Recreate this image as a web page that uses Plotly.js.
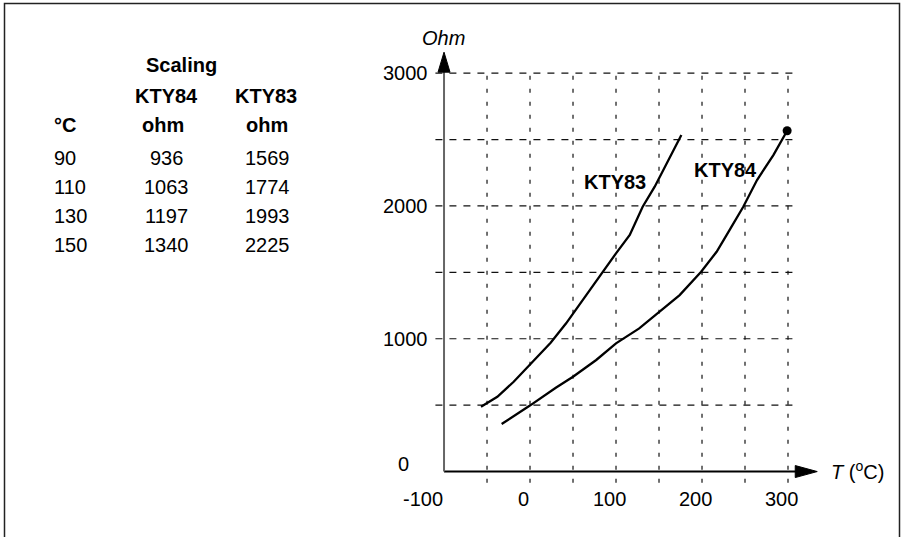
<!DOCTYPE html>
<html>
<head>
<meta charset="utf-8">
<script src="https://cdn.plot.ly/plotly-3.0.1.min.js"></script>
<style>html,body{margin:0;padding:0;background:#fff;}#chart{width:901px;height:537px;}</style>
</head>
<body>
<div id="chart"></div>
<script>
// ---- data ----
const kty83T = [-57, -38, -19, 1, 24, 42, 61, 83, 100, 116, 131, 145, 159, 176];
const kty83R = [488, 563, 676, 815, 970, 1116, 1291, 1492, 1643, 1782, 1994, 2145, 2321, 2534];
const kty84T = [-33, -1, 30, 50, 77, 100, 127, 151, 174, 199, 217, 232, 248, 264, 283, 299];
const kty84R = [358, 493, 631, 714, 840, 965, 1078, 1203, 1329, 1505, 1655, 1818, 1994, 2195, 2383, 2566];

const tableTempC = [90, 110, 130, 150];
const tableKTY84 = [936, 1063, 1197, 1340];
const tableKTY83 = [1569, 1774, 1993, 2225];

const xTickVals = [-100, 0, 100, 200, 300];
const xTickText = ['-100', '0', '100', '200', '300'];
const yTickVals = [0, 1000, 2000, 3000];
const yTickText = ['0', '1000', '2000', '3000'];
const xGridVals = [-50, 0, 50, 100, 150, 200, 250, 300];
const yGridVals = [500, 1000, 1500, 2000, 2500, 3000];

// ---- styling ----
const W = 901, H = 537;
const FONT = 'Liberation Sans, Arial, Helvetica, sans-serif';
const px = v => v / W;
const py = v => 1 - v / H;
const txt = (text, x, y, extra) => Object.assign({
  text: text, x: x, y: y, xref: 'paper', yref: 'paper', showarrow: false,
  font: {family: FONT, size: 20, color: '#000'}, xanchor: 'center', yanchor: 'middle'
}, extra || {});

const traces = [
  {x: kty83T, y: kty83R, mode: 'lines', line: {color: '#000', width: 2.3}, hoverinfo: 'skip'},
  {x: kty84T, y: kty84R, mode: 'lines', line: {color: '#000', width: 2.3}, hoverinfo: 'skip'},
  {x: [kty84T[kty84T.length - 1]], y: [kty84R[kty84R.length - 1]], mode: 'markers',
   marker: {color: '#000', size: 9}, hoverinfo: 'skip'}
];

const shapes = [];
// figure border (left, top, right)
shapes.push({type: 'path', xref: 'paper', yref: 'paper',
  path: `M ${px(4.5)},-0.02 L ${px(4.5)},${py(3.5)} L ${px(899.5)},${py(3.5)} L ${px(899.5)},-0.02`,
  line: {color: '#222', width: 1.5}});
// grid
xGridVals.forEach(v => shapes.push({type: 'line', xref: 'x', yref: 'y', x0: v, x1: v, y0: -85, y1: 3000,
  line: {color: '#111', width: 1.2, dash: '4px,9px'}, layer: 'below'}));
yGridVals.forEach(v => shapes.push({type: 'line', xref: 'x', yref: 'y', x0: -110, x1: 308, y0: v, y1: v,
  line: {color: '#111', width: 1.2, dash: '7px,7px'}, layer: 'below'}));
// axes
shapes.push({type: 'line', xref: 'x', yref: 'y', x0: -100, x1: 312, y0: 0, y1: 0, line: {color: '#000', width: 2}});
shapes.push({type: 'line', xref: 'x', yref: 'y', x0: -100, x1: -100, y0: 0, y1: 3020, line: {color: '#666', width: 2}});
shapes.push({type: 'path', xref: 'x', yref: 'y', xsizemode: 'pixel', ysizemode: 'pixel', xanchor: 334, yanchor: 0,
  path: 'M 0,0 L -22,6 L -22,-6 Z', fillcolor: '#000', line: {color: '#000', width: 1}});
shapes.push({type: 'path', xref: 'x', yref: 'y', xsizemode: 'pixel', ysizemode: 'pixel', xanchor: -100, yanchor: 3158,
  path: 'M 0,0 L -6,-20 L 6,-20 Z', fillcolor: '#000', line: {color: '#000', width: 1}});

const ann = [];
// tick labels
xTickVals.forEach((v, i) => {
  const first = i === 0;
  ann.push({text: xTickText[i], x: v, y: 0, xref: 'x', yref: 'y', showarrow: false,
    xanchor: first ? 'right' : 'center', yanchor: 'middle', xshift: first ? 1 : -7, yshift: -27,
    font: {family: FONT, size: 20, color: '#000'}});
});
yTickVals.forEach((v, i) => {
  const zero = v === 0;
  ann.push({text: yTickText[i], x: -100, y: v, xref: 'x', yref: 'y', showarrow: false,
    xanchor: zero ? 'center' : 'right', yanchor: 'middle', xshift: zero ? -41 : -14, yshift: zero ? 8 : 0,
    font: {family: FONT, size: 20, color: '#000'}});
});
// axis titles
ann.push(txt('<i>Ohm</i>', px(443), py(38)));
ann.push(txt('<i>T</i> (<sup>o</sup>C)', px(829), py(470), {xanchor: 'left'}));
// curve labels
ann.push({text: '<b>KTY83</b>', x: 99.4, y: 2182, xref: 'x', yref: 'y', showarrow: false,
  font: {family: FONT, size: 20, color: '#000'}});
ann.push({text: '<b>KTY84</b>', x: 227.6, y: 2270, xref: 'x', yref: 'y', showarrow: false,
  font: {family: FONT, size: 20, color: '#000'}});
// table
ann.push(txt('<b>Scaling</b>', px(181), py(65)));
ann.push(txt('<b>KTY84</b>', px(166), py(96)));
ann.push(txt('<b>KTY83</b>', px(266), py(96)));
ann.push(txt('<b>°C</b>', px(52), py(125), {xanchor: 'left'}));
ann.push(txt('<b>ohm</b>', px(163), py(125)));
ann.push(txt('<b>ohm</b>', px(267), py(125)));
const rowY = [158, 187, 216, 245];
tableTempC.forEach((t, i) => {
  ann.push(txt(String(t), px(52), py(rowY[i]), {xanchor: 'left'}));
  ann.push(txt(String(tableKTY84[i]), px(166), py(rowY[i])));
  ann.push(txt(String(tableKTY83[i]), px(267), py(rowY[i])));
});

const layout = {
  width: W, height: H, margin: {l: 0, r: 0, t: 0, b: 0},
  paper_bgcolor: '#fff', plot_bgcolor: 'rgba(0,0,0,0)', showlegend: false,
  xaxis: {domain: [433.7 / W, 818.1 / W], range: [-112, 335], visible: false, fixedrange: true},
  yaxis: {domain: [1 - 483.5 / H, 1 - 51.9 / H], range: [-90, 3160], visible: false, fixedrange: true},
  shapes: shapes, annotations: ann
};
Plotly.newPlot('chart', traces, layout, {staticPlot: true, displayModeBar: false});
</script>
</body>
</html>
